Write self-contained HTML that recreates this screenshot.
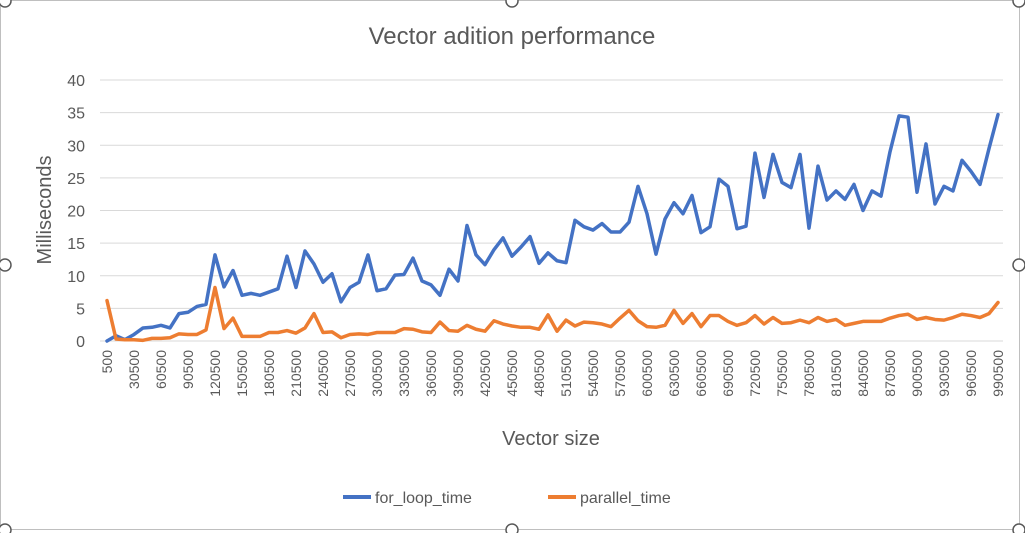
<!DOCTYPE html>
<html><head><meta charset="utf-8"><style>
html,body{margin:0;padding:0;background:#fff;}
svg{display:block;font-family:"Liberation Sans",sans-serif;}
</style></head><body>
<svg id="c" width="1025" height="533">
<rect x="0.5" y="0.5" width="1019" height="529" fill="#fff" stroke="#bfbfbf"/>
<text x="512" y="44" text-anchor="middle" font-size="24" fill="#595959">Vector adition performance</text>
<text transform="translate(51,210) rotate(-90)" text-anchor="middle" font-size="20" fill="#595959">Milliseconds</text>
<text x="551" y="445" text-anchor="middle" font-size="20" fill="#595959">Vector size</text>
<g id="grid"></g><g id="xt"></g><g id="series"></g>
<g>
<line x1="343" y1="497" x2="371" y2="497" stroke="#4472c4" stroke-width="4"/>
<text x="375" y="503" font-size="16" fill="#595959">for_loop_time</text>
<line x1="548" y1="497" x2="576" y2="497" stroke="#ed7d31" stroke-width="4"/>
<text x="580" y="503" font-size="16" fill="#595959">parallel_time</text>
</g>
<g fill="#fff" stroke="#595959" stroke-width="1.5">
<circle cx="5" cy="1" r="6"/><circle cx="512" cy="1" r="6"/><circle cx="1019" cy="1" r="6"/>
<circle cx="5" cy="265" r="6"/><circle cx="1019" cy="265" r="6"/>
<circle cx="5" cy="530" r="6"/><circle cx="512" cy="530" r="6"/><circle cx="1019" cy="530" r="6"/>
</g>
</svg>
<script>
const yTicks=[0,5,10,15,20,25,30,35,40];
const forLoop=[0,0.8,0.2,1,2,2.1,2.4,2,4.2,4.4,5.3,5.6,13.2,8.3,10.8,7,7.3,7,7.5,8,13,8.2,13.8,11.8,9,10.3,6,8.2,9,13.2,7.7,8,10.1,10.2,12.7,9.2,8.6,7,11,9.2,17.7,13.2,11.7,14,15.8,13,14.4,16,11.9,13.5,12.3,12,18.5,17.5,17,18,16.7,16.7,18.2,23.7,19.5,13.3,18.7,21.2,19.5,22.3,16.6,17.5,24.8,23.7,17.2,17.6,28.8,22,28.6,24.3,23.5,28.6,17.3,26.8,21.6,23,21.7,24,20,23,22.2,29,34.5,34.3,22.8,30.2,21,23.7,23,27.7,26,24,29.5,34.7];
const parallel=[6.2,0.3,0.2,0.2,0.1,0.4,0.4,0.5,1.1,1,1,1.7,8.2,1.9,3.5,0.7,0.7,0.7,1.3,1.3,1.6,1.2,2,4.2,1.3,1.4,0.5,1,1.1,1,1.3,1.3,1.3,1.9,1.8,1.4,1.3,2.9,1.6,1.5,2.4,1.8,1.5,3.1,2.6,2.3,2.1,2.1,1.8,4,1.5,3.2,2.3,2.9,2.8,2.6,2.2,3.5,4.7,3.1,2.2,2.1,2.4,4.7,2.7,4.2,2.2,3.9,3.9,3,2.4,2.8,3.9,2.6,3.6,2.7,2.8,3.2,2.8,3.6,3,3.3,2.4,2.7,3,3,3,3.5,3.9,4.1,3.3,3.6,3.3,3.2,3.6,4.1,3.9,3.6,4.2,5.9];
const categories=forLoop.map((_,i)=>500+i*10000);
const NS="http://www.w3.org/2000/svg";
const X0=107,X1=998,Y0=341,Y1=80;
const xs=i=>X0+(X1-X0)*i/(categories.length-1);
const ys=v=>Y0-(Y0-Y1)*v/40;
function mk(t,a,p){const e=document.createElementNS(NS,t);for(const k in a)e.setAttribute(k,a[k]);p.appendChild(e);return e;}
const grid=document.getElementById('grid');
yTicks.forEach(v=>{
 const l=mk('line',{x1:100,x2:1003,y1:ys(v),y2:ys(v),stroke:'#d9d9d9','stroke-width':1},grid);
 
 
 const t=mk('text',{x:85,y:ys(v)+6,'text-anchor':'end','font-size':16,fill:'#595959'},grid);
 t.textContent=v;
 
 
});
const xt=document.getElementById('xt');
categories.forEach((c,i)=>{
 if(i%3)return;
 const t=mk('text',{transform:`translate(${xs(i)+5},350) rotate(-90)`,'text-anchor':'end','font-size':14,fill:'#595959'},xt);
 t.textContent=c;
 
 
});
const sg=document.getElementById('series');
[[forLoop,'#4472c4','for-loop-line'],[parallel,'#ed7d31','parallel-line']].forEach(([d,col,n])=>{
 const p=mk('polyline',{points:d.map((v,i)=>xs(i)+','+ys(v)).join(' '),fill:'none',stroke:col,'stroke-width':3.5,'stroke-linejoin':'round','stroke-linecap':'round'},sg);
 
 
});
</script>
</body></html>
